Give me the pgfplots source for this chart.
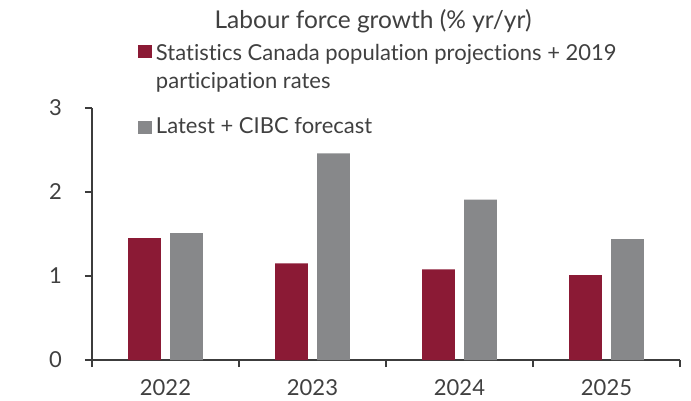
\documentclass[border=0pt]{standalone}
\usepackage{fontspec}
\setmainfont{Lato}[Ligatures=NoCommon]
\usepackage{pgfplots}
\pgfplotsset{compat=1.18}
\definecolor{cibcred}{RGB}{139,26,53}
\definecolor{cibcgrey}{RGB}{135,136,138}
\definecolor{txt}{RGB}{64,64,64}
\definecolor{axl}{RGB}{60,60,60}
\begin{document}
\begin{tikzpicture}
\path[use as bounding box] (-92pt,-40pt) rectangle (599pt,360pt);
\begin{axis}[
  at={(0pt,0pt)}, anchor=south west,
  scale only axis, width=588pt, height=252pt,
  xmin=-0.5, xmax=3.5, ymin=0, ymax=3,
  axis x line*=bottom, axis y line*=left,
  axis line style={axl, line width=1.4pt},
  tick style={axl, line width=1.4pt},
  tick align=outside, major tick length=7pt,
  xtick={-0.5,0.5,1.5,2.5,3.5}, xticklabels={},
  extra x ticks={0,1,2,3},
  extra x tick labels={2022,2023,2024,2025},
  extra x tick style={grid=none, major tick length=0pt,
    tick label style={anchor=base, yshift=-35pt, inner sep=0pt, text=txt, font=\fontsize{22}{22}\selectfont}},
  ytick={0,1,2,3},
  yticklabel style={anchor=east, inner sep=0pt, xshift=-23pt, text=txt, font=\fontsize{22}{22}\selectfont},
  /pgf/number format/assume math mode=true,
  legend style={at={(0.0782,1.2536)}, anchor=north west, draw=none, fill=none,
    inner sep=0pt, outer sep=0pt, row sep=27.8pt, column sep=4pt,
    font=\fontsize{22}{28}\selectfont, text=txt,
    nodes={inner sep=0pt, align=left}},
  legend cell align=left,
]
\addplot[ybar, bar width=0.224, bar shift=-0.143, fill=cibcred, draw=none,
  legend image code/.code={\fill[cibcred] (0pt,9pt) rectangle (14pt,22pt);}]
  coordinates {(0,1.45) (1,1.15) (2,1.08) (3,1.01)};
\addlegendentry{Statistics Canada population projections + 2019\\participation rates}
\addplot[ybar, bar width=0.224, bar shift=0.143, fill=cibcgrey, draw=none,
  legend image code/.code={\fill[cibcgrey] (0pt,-8pt) rectangle (14pt,5pt);}]
  coordinates {(0,1.51) (1,2.46) (2,1.91) (3,1.44)};
\addlegendentry{Latest + CIBC forecast}
\end{axis}
\node[anchor=base, font=\fontsize{24.5}{28}\selectfont, text=txt, inner sep=0pt] at (281pt,331pt) {Labour force growth (\% yr/yr)};
\end{tikzpicture}
\end{document}
